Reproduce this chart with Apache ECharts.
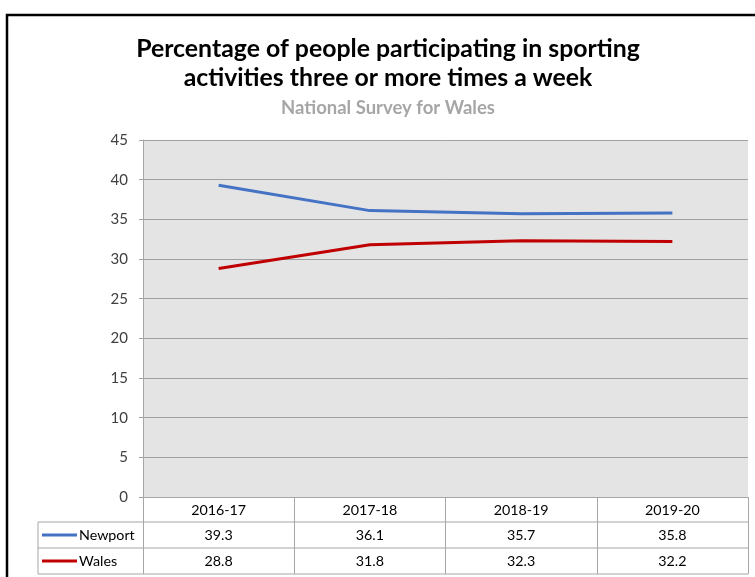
<!DOCTYPE html>
<html>
<head>
<meta charset="utf-8">
<style>html,body{margin:0;padding:0;background:#fff;}#c{width:755px;height:577px;}</style>
<script src="https://cdn.jsdelivr.net/npm/echarts@6/dist/echarts.min.js"></script>
</head>
<body>
<div id="c"></div>
<script>
const categories = ['2016-17', '2017-18', '2018-19', '2019-20'];
const newport = [39.3, 36.1, 35.7, 35.8];
const wales = [28.8, 31.8, 32.3, 32.2];
const seriesNames = ['Newport', 'Wales'];
const seriesColors = ['#4472c4', '#c00000'];
const titleLines = ['Percentage of people participating in sporting', 'activities three or more times a week'];
const subtitle = 'National Survey for Wales';

const FONT = 'Lato';
const cv = document.createElement('canvas').getContext('2d');
function fit(text, weight, target) {
  cv.font = weight + ' 100px ' + FONT;
  return 100 * target / cv.measureText(text).width;
}
const titleSize = fit(titleLines[0], 'bold', 504);
const subSize = fit(subtitle, 'bold', 214);
const labelSize = fit('2016-17', 'normal', 55);

const chart = echarts.init(document.getElementById('c'), null, {renderer: 'canvas'});
const option = {
  backgroundColor: '#fff',
  animation: false,
  title: {
    text: titleLines.join('\n'),
    subtext: subtitle,
    left: 388,
    textAlign: 'center',
    top: 34,
    padding: 0,
    itemGap: 7,
    textStyle: {fontFamily: FONT, fontWeight: 'bold', fontSize: titleSize, lineHeight: 29, color: '#000'},
    subtextStyle: {fontFamily: FONT, fontWeight: 'bold', fontSize: subSize, lineHeight: 18, color: '#a6a6a6'}
  },
  grid: {left: 143, right: 7, top: 140, bottom: 80, show: true, backgroundColor: '#e4e4e4', borderWidth: 0},
  xAxis: {
    type: 'category',
    data: categories,
    boundaryGap: true,
    axisLine: {lineStyle: {color: '#a6a6a6', width: 1}},
    axisTick: {show: true, length: 77, interval: 0, lineStyle: {color: '#a6a6a6', width: 1}},
    axisLabel: {fontFamily: FONT, fontSize: labelSize, color: '#000', margin: 6, interval: 0},
    splitLine: {show: false}
  },
  yAxis: {
    type: 'value',
    min: 0, max: 45, interval: 5,
    axisLine: {show: true, lineStyle: {color: '#a6a6a6', width: 1}},
    axisTick: {show: true, length: 4, lineStyle: {color: '#a6a6a6'}},
    axisLabel: {fontFamily: FONT, fontSize: 15, color: '#404040', margin: 15},
    splitLine: {show: true, lineStyle: {color: '#a0a0a0', width: 1}}
  },
  series: [
    {name: seriesNames[0], type: 'line', data: newport, symbol: 'none', lineStyle: {color: seriesColors[0], width: 3}, itemStyle: {color: seriesColors[0]}},
    {name: seriesNames[1], type: 'line', data: wales, symbol: 'none', lineStyle: {color: seriesColors[1], width: 3}, itemStyle: {color: seriesColors[1]}}
  ]
};
chart.setOption(option);

// Data table below the axis
const rows = [newport, wales];
const left = 38, plotRight = 748;
const rowTops = [522, 548];
const rowH = 26;
const g = [];
g.push({type: 'rect', z: 100, shape: {x: 7, y: 15, width: 800, height: 600}, style: {fill: 'none', stroke: '#000', lineWidth: 2.5}});
[522, 548, 574].forEach(y => g.push({type: 'line', z: 50, shape: {x1: left, y1: y, x2: plotRight, y2: y}, style: {stroke: '#a6a6a6', lineWidth: 1}}));
g.push({type: 'line', z: 50, shape: {x1: left, y1: 522, x2: left, y2: 574}, style: {stroke: '#a6a6a6', lineWidth: 1}});
rows.forEach((vals, r) => {
  const cy = rowTops[r] + rowH / 2;
  g.push({type: 'line', z: 50, shape: {x1: 42, y1: cy, x2: 77, y2: cy}, style: {stroke: seriesColors[r], lineWidth: 3}});
  g.push({type: 'text', z: 50, x: 79, y: cy, style: {text: seriesNames[r], fontFamily: FONT, fontSize: labelSize, fill: '#000', textAlign: 'left', textVerticalAlign: 'middle'}});
  vals.forEach((v, i) => {
    const px = chart.convertToPixel({xAxisIndex: 0}, i);
    g.push({type: 'text', z: 50, x: px, y: cy, style: {text: v.toFixed(1), fontFamily: FONT, fontSize: labelSize, fill: '#000', textAlign: 'center', textVerticalAlign: 'middle'}});
  });
});
chart.setOption({graphic: g});
</script>
</body>
</html>
